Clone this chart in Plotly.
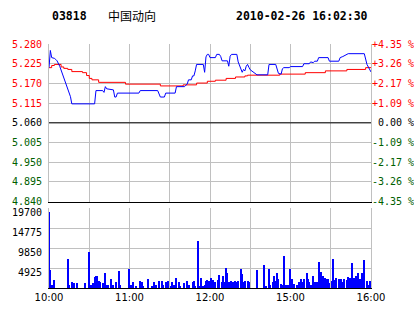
import plotly.graph_objects as go

# ---------------- data ----------------
stock_code = "03818"
stock_name = "中国动向"
timestamp = "2010-02-26 16:02:30"
prev_close = 5.060

# minutes since 10:00 (trading minutes, lunch break removed)
price_min = [0, 1, 2, 3, 4, 5, 6, 8, 10, 12, 13, 14, 15, 16, 17, 34, 35, 40, 41, 42, 43, 48, 49, 50,
             51, 67, 68, 81, 83, 86, 87, 94, 95, 101, 102, 103, 104, 106, 107, 108, 109, 110, 115,
             116, 117, 118, 119, 120, 124, 125, 127, 128, 129, 133, 134, 135, 136, 140, 141, 142,
             143, 144, 145, 146, 147, 148, 149, 150, 155, 163, 164, 169, 171, 173, 174, 175, 179,
             180, 189, 190, 194, 195, 197, 198, 200, 201, 208, 209, 216, 217, 219, 221, 222, 223,
             235, 237, 240]
price_val = [5.214, 5.262, 5.242, 5.242, 5.240, 5.237, 5.233, 5.218, 5.198, 5.178, 5.166, 5.155,
             5.143, 5.133, 5.113, 5.113, 5.150, 5.150, 5.145, 5.161, 5.155, 5.152, 5.132, 5.132,
             5.143, 5.143, 5.150, 5.150, 5.132, 5.132, 5.143, 5.143, 5.161, 5.161, 5.165, 5.168,
             5.180, 5.180, 5.191, 5.191, 5.205, 5.223, 5.223, 5.201, 5.244, 5.251, 5.251, 5.242,
             5.242, 5.251, 5.251, 5.245, 5.233, 5.233, 5.218, 5.246, 5.251, 5.251, 5.230, 5.218,
             5.210, 5.201, 5.209, 5.205, 5.218, 5.223, 5.215, 5.208, 5.194, 5.194, 5.223, 5.223,
             5.198, 5.196, 5.211, 5.214, 5.214, 5.217, 5.217, 5.225, 5.225, 5.230, 5.228, 5.232,
             5.232, 5.242, 5.242, 5.232, 5.232, 5.242, 5.245, 5.249, 5.251, 5.253, 5.253, 5.223,
             5.202]

avg_min = [0, 2, 4, 9, 11, 14, 17, 25, 28, 30, 32, 37, 57, 83, 100, 110, 118, 124, 132, 139, 146,
           148, 172, 191, 206, 222, 236, 240]
avg_val = [5.214, 5.220, 5.223, 5.216, 5.212, 5.209, 5.203, 5.200, 5.192, 5.184, 5.180, 5.173,
           5.168, 5.163, 5.166, 5.171, 5.176, 5.179, 5.184, 5.188, 5.191, 5.193, 5.196, 5.200,
           5.205, 5.209, 5.214, 5.214]

vol_min = [0, 1, 2, 3, 4, 14, 15, 17, 19, 21, 27, 30, 31, 33, 34, 35, 36, 37, 38, 40, 42, 43, 44,
           46, 48, 50, 52, 53, 60, 61, 63, 65, 68, 69, 70, 74, 77, 78, 80, 82, 84, 85, 87, 89, 91,
           92, 93, 95, 97, 98, 101, 103, 104, 107, 108, 109, 111, 112, 113, 115, 116, 117, 118,
           119, 121, 122, 123, 124, 126, 127, 129, 130, 131, 132, 133, 134, 136, 137, 139, 140,
           141, 143, 144, 145, 146, 148, 149, 155, 160, 162, 164, 165, 167, 168, 169, 170, 171,
           173, 174, 175, 177, 178, 180, 181, 183, 185, 186, 188, 189, 190, 192, 193, 194, 195,
           197, 198, 199, 200, 201, 202, 203, 204, 206, 207, 208, 209, 211, 212, 213, 214, 216,
           217, 218, 219, 220, 222, 223, 224, 226, 227, 228, 229, 230, 232, 233, 234, 235, 237,
           238, 239]
vol_val = [18800, 4330, 780, 260, 1810, 7210, 780, 1300, 1040, 1040, 1040, 8930, 780, 1040, 2590,
           2930, 2850, 1630, 1300, 1040, 3590, 780, 780, 2070, 780, 1370, 4080, 780, 4500, 780,
           1370, 520, 1630, 1370, 520, 2070, 520, 1370, 780, 1630, 1630, 780, 1300, 1630, 520,
           1300, 780, 2410, 1300, 520, 1040, 1630, 780, 1300, 1630, 520, 11460, 520, 2510, 520,
           780, 1630, 1810, 1630, 2330, 1890, 780, 1300, 1890, 3110, 1370, 2930, 1370, 4920, 3690,
           1300, 1630, 1370, 1630, 1300, 1630, 4670, 3370, 1480, 1630, 1630, 1370, 4330, 5730,
           520, 4500, 780, 1370, 2930, 1630, 3520, 2070, 960, 780, 7950, 780, 780, 4670, 2070,
           960, 780, 1300, 2250, 1300, 2070, 3520, 2070, 1300, 780, 2770, 1300, 780, 1300, 6400,
           1630, 3840, 2930, 2330, 2070, 2250, 1040, 1630, 7130, 1890, 2510, 2250, 1630, 2070,
           1300, 2070, 1890, 2670, 2330, 6150, 2330, 1630, 2930, 3690, 2070, 3690, 2070, 6960,
           1630, 780, 1630]

grid_min = [0, 30, 60, 90, 120, 150, 180, 210, 240]
time_labels = ["10:00", "", "11:00", "", "12:00", "", "15:00", "", "16:00"]

price_ticks = [4.840, 4.895, 4.950, 5.005, 5.060, 5.115, 5.170, 5.225, 5.280]
price_labels = ["4.840", "4.895", "4.950", "5.005", "5.060", "5.115", "5.170", "5.225", "5.280"]
pct_labels = ["-4.35 %", "-3.26 %", "-2.17 %", "-1.09 %", " 0.00 %",
              "+1.09 %", "+2.17 %", "+3.26 %", "+4.35 %"]

vol_ticks = [4925, 9850, 14775, 19700]
vol_labels = ["4925", "9850", "14775", "19700"]

# ---------------- styling ----------------
RED = "#ff0000"
GREEN = "#006000"
BLUE = "#0000ff"
GRID = "#c0c0c0"
MONO = "DejaVu Sans Mono"


def colored(labels, ticks):
    out = []
    for lab, t in zip(labels, ticks):
        if abs(t - prev_close) < 1e-9:
            c = "#000000"
        elif t > prev_close:
            c = RED
        else:
            c = GREEN
        out.append(f"<span style='color:{c}'>{lab}</span>")
    return out


fig = go.Figure()

fig.add_trace(go.Scatter(x=avg_min, y=avg_val, mode="lines", line=dict(color=RED, width=1, shape="hv"),
                         xaxis="x", yaxis="y", hoverinfo="skip"))
fig.add_trace(go.Scatter(x=price_min, y=price_val, mode="lines", line=dict(color=BLUE, width=1),
                         xaxis="x", yaxis="y", hoverinfo="skip"))
fig.add_trace(go.Scatter(x=[0], y=[prev_close], mode="markers", marker=dict(opacity=0),
                         xaxis="x", yaxis="y2", hoverinfo="skip"))
fig.add_trace(go.Bar(x=vol_min, y=vol_val, width=0.8, marker=dict(color=BLUE, line=dict(width=0)),
                     xaxis="x2", yaxis="y3", hoverinfo="skip"))

fig.add_shape(type="line", xref="x", yref="y", x0=0, x1=240, y0=prev_close, y1=prev_close,
              line=dict(color="#000000", width=1))

fig.update_layout(
    width=414, height=314,
    margin=dict(l=49, r=43, t=44, b=26),
    paper_bgcolor="white", plot_bgcolor="white",
    showlegend=False, bargap=0,
    xaxis=dict(domain=[0, 1], anchor="y", range=[0, 240], tickvals=grid_min, showticklabels=False,
               showgrid=True, gridcolor=GRID, gridwidth=1, zeroline=False, ticks="",
               showline=True, linecolor="#000000", linewidth=1, automargin=False),
    yaxis=dict(domain=[0.3537, 1], anchor="x", range=[4.840, 5.280], tickvals=price_ticks,
               ticktext=colored(price_labels, price_ticks), showgrid=True, gridcolor=GRID,
               zeroline=False, ticks="", showline=True, linecolor=GRID, linewidth=1, mirror=True,
               tickfont=dict(family=MONO, size=10), ticklabelstandoff=4, automargin=False),
    yaxis2=dict(overlaying="y", side="right", anchor="x", range=[4.840, 5.280], tickvals=price_ticks,
                ticktext=colored(pct_labels, price_ticks), showgrid=False, zeroline=False,
                ticks="", showline=False, tickfont=dict(family=MONO, size=10), ticklabelstandoff=0,
                automargin=False),
    xaxis2=dict(domain=[0, 1], anchor="y3", range=[0, 240], tickvals=grid_min, ticktext=time_labels,
                showgrid=True, gridcolor=GRID, zeroline=False, ticks="",
                showline=True, linecolor="#000000", linewidth=1, automargin=False,
                tickfont=dict(family="DejaVu Sans", size=10, color="#000000")),
    yaxis3=dict(domain=[0, 0.3266], anchor="x2", range=[0, 19700], tickvals=vol_ticks,
                ticktext=vol_labels, showgrid=True, gridcolor=GRID, zeroline=False, ticks="",
                showline=True, linecolor=GRID, linewidth=1, mirror=True, automargin=False,
                tickfont=dict(family=MONO, size=10, color="#000000"), ticklabelstandoff=4,
                ticklabelshift=4),
)

fig.add_annotation(xref="paper", yref="paper", x=0.003, y=1.1148, xanchor="left", yanchor="middle",
                   text=f"<b>{stock_code}</b>", showarrow=False,
                   font=dict(family=MONO, size=11.5, color="#000000"))
fig.add_annotation(xref="paper", yref="paper", x=0.177, y=1.1148, xanchor="left", yanchor="middle",
                   text=stock_name, showarrow=False,
                   font=dict(family="Noto Sans CJK SC", size=12, color="#000000"))
fig.add_annotation(xref="paper", yref="paper", x=0.997, y=1.1148, xanchor="right", yanchor="middle",
                   text=f"<b>{timestamp}</b>", showarrow=False,
                   font=dict(family=MONO, size=11.5, color="#000000"))

fig.write_html("out.html")
